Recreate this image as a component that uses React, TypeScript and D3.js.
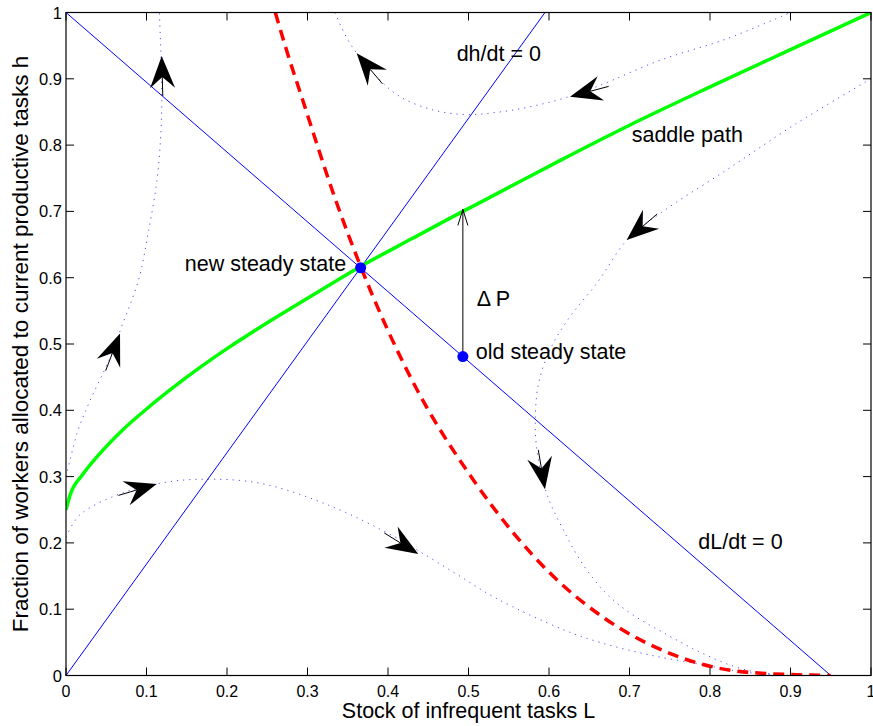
import React from "react";
import * as d3 from "d3";

const W = 873, H = 726;
const ticks = [0, 0.1, 0.2, 0.3, 0.4, 0.5, 0.6, 0.7, 0.8, 0.9, 1];
const tickLabels = ["0", "0.1", "0.2", "0.3", "0.4", "0.5", "0.6", "0.7", "0.8", "0.9", "1"];

// isoclines
const dLdtLine: [number, number][] = [[0, 1], [0.95, 0]];
const dhdtLine: [number, number][] = [[0, 0], [0.595, 1]];

// saddle path (green)
const saddle: [number, number][] = [
  [0, 0.25], [0.005, 0.272], [0.02, 0.302], [0.04, 0.332], [0.07, 0.37], [0.1, 0.402],
  [0.15, 0.45], [0.2, 0.493], [0.25, 0.532], [0.3, 0.569], [0.366, 0.617], [0.43, 0.659],
  [0.496, 0.702], [0.52, 0.717], [0.614, 0.777], [0.7, 0.83], [0.804, 0.89], [0.9, 0.944], [1, 1],
];

// red dashed
const redCurve: [number, number][] = [
  [0.26, 1], [0.274, 0.943], [0.294, 0.868], [0.335, 0.717], [0.366, 0.617], [0.43, 0.445],
  [0.506, 0.295], [0.605, 0.15], [0.667, 0.088], [0.755, 0.031], [0.85, 0.0045], [0.95, 0],
];

// trajectories (dotted)
const traj1: [number, number][] = [
  [0, 0.3], [0.005, 0.325], [0.015, 0.37], [0.03, 0.415], [0.055, 0.48], [0.069, 0.526],
  [0.09, 0.596], [0.102, 0.667], [0.113, 0.747], [0.118, 0.822], [0.119, 0.883], [0.116, 1],
];
const traj2: [number, number][] = [
  [0, 0.209], [0.017, 0.242], [0.067, 0.274], [0.117, 0.29], [0.166, 0.296], [0.241, 0.29],
  [0.328, 0.256], [0.407, 0.21], [0.438, 0.188], [0.485, 0.153], [0.535, 0.116], [0.618, 0.069],
  [0.663, 0.05], [0.725, 0.031], [0.788, 0.017], [0.837, 0.006], [0.878, 0.0015], [0.9, 0],
];
const traj3: [number, number][] = [
  [0.334, 1], [0.353, 0.953], [0.386, 0.903], [0.415, 0.873], [0.456, 0.853], [0.498, 0.846],
  [0.539, 0.85], [0.581, 0.859], [0.622, 0.872], [0.663, 0.89], [0.738, 0.928], [0.82, 0.96],
  [0.9, 1],
];
const traj4: [number, number][] = [
  [1, 0.9], [0.904, 0.83], [0.82, 0.762], [0.738, 0.697], [0.697, 0.657], [0.659, 0.591],
  [0.626, 0.541], [0.601, 0.491], [0.587, 0.44], [0.583, 0.39], [0.585, 0.34], [0.597, 0.275],
  [0.618, 0.219], [0.643, 0.166], [0.671, 0.124], [0.701, 0.094], [0.746, 0.062], [0.788, 0.035],
  [0.829, 0.014], [0.863, 0.004], [0.9, 0],
];
const trajectories = [traj1, traj2, traj3, traj4];

// arrowheads: tip (L,h) and direction (dL,dh)
const arrowTips: [number, number][] = [
  [0.1189, 0.9344], [0.0671, 0.516], [0.1127, 0.2888], [0.4376, 0.1833],
  [0.3611, 0.9385], [0.6261, 0.873], [0.6965, 0.6569], [0.595, 0.2808],
];
const arrowDirs: [number, number][] = [
  [-0.001, 0.045], [0.013, 0.041], [0.036, 0.013], [0.032, -0.024],
  [-0.025, 0.036], [-0.037, -0.012], [-0.029, -0.03], [0.006, -0.043],
];

const newSS: [number, number] = [0.366, 0.615];
const oldSS: [number, number] = [0.493, 0.481];
const shiftTop = 0.703;

const labels = [
  { text: "new steady state", at: [0.348, 0.61], anchor: "end" },
  { text: "old steady state", at: [0.509, 0.477], anchor: "start" },
  { text: "dh/dt = 0", at: [0.4853, 0.927], anchor: "start" },
  { text: "saddle path", at: [0.7027, 0.805], anchor: "start" },
  { text: "dL/dt = 0", at: [0.7855, 0.191], anchor: "start" },
  { text: "\u0394 P", at: [0.5102, 0.557], anchor: "start" },
];

export default function App() {
  const x = d3.scaleLinear().domain([0, 1]).range([66, 871]);
  const y = d3.scaleLinear().domain([0, 1]).range([675.5, 12.5]);
  const lineM = d3.line<[number, number]>().x(d => x(d[0])).y(d => y(d[1])).curve(d3.curveMonotoneX);
  const lineC = d3.line<[number, number]>().x(d => x(d[0])).y(d => y(d[1])).curve(d3.curveCatmullRom);
  const lineS = d3.line<[number, number]>().x(d => x(d[0])).y(d => y(d[1]));
  const font = "'Liberation Sans', Arial, Helvetica, sans-serif";
  const x0 = x(0), x1 = x(1), y0 = y(0), y1 = y(1);

  const arrows = arrowTips.map((t, i) => {
    const tx = x(t[0]), ty = y(t[1]);
    const dx = x(t[0] + arrowDirs[i][0]) - tx;
    const dy = y(t[1] + arrowDirs[i][1]) - ty;
    const len = Math.hypot(dx, dy);
    const ux = dx / len, uy = dy / len;
    const px = -uy, py = ux;
    const L = 32, hw = 12.5, notch = 21;
    const bx = tx - ux * L, by = ty - uy * L;
    const pts = [
      [tx, ty],
      [bx + px * hw, by + py * hw],
      [tx - ux * notch, ty - uy * notch],
      [bx - px * hw, by - py * hw],
    ];
    return {
      d: "M" + pts.map(p => p[0].toFixed(2) + "," + p[1].toFixed(2)).join("L") + "Z",
      tail: [tx - ux * notch, ty - uy * notch, tx - ux * 40, ty - uy * 40],
    };
  });

  return (
    <svg width={W} height={H} style={{ position: "absolute", left: 0, top: 0, background: "#fff" }}>
      <defs>
        <clipPath id="plotclip">
          <rect x={x0} y={y1} width={x1 - x0} height={y0 - y1} />
        </clipPath>
      </defs>
      <rect x={0} y={0} width={W} height={H} fill="#fff" />
      <g clipPath="url(#plotclip)">
        {trajectories.map((t, i) => (
          <path key={i} d={lineC(t) || ""} fill="none" stroke="#3333ff" strokeWidth={1}
            strokeDasharray="1.2,5" strokeOpacity={0.85} />
        ))}
        <path d={lineS(dLdtLine) || ""} fill="none" stroke="#0000ff" strokeWidth={1} />
        <path d={lineS(dhdtLine) || ""} fill="none" stroke="#0000ff" strokeWidth={1} />
        <path d={lineM(redCurve.slice().sort((a, b) => a[0] - b[0])) || ""} fill="none" stroke="#ff0000"
          strokeWidth={3.5} strokeDasharray="11,7" />
        <path d={lineM(saddle) || ""} fill="none" stroke="#00ff00" strokeWidth={3.5} />
      </g>
      {/* shift arrow */}
      <line x1={x(oldSS[0])} y1={y(oldSS[1])} x2={x(oldSS[0])} y2={y(shiftTop)} stroke="#000" strokeWidth={1} />
      <path d={`M${x(oldSS[0]) - 5},${y(shiftTop) + 16} L${x(oldSS[0])},${y(shiftTop)} L${x(oldSS[0]) + 5},${y(shiftTop) + 16}`}
        fill="none" stroke="#000" strokeWidth={1} />
      {arrows.map((a, i) => (
        <g key={i}>
          <line x1={a.tail[0]} y1={a.tail[1]} x2={a.tail[2]} y2={a.tail[3]} stroke="#000" strokeWidth={1} />
          <path d={a.d} fill="#000" />
        </g>
      ))}
      <circle cx={x(newSS[0])} cy={y(newSS[1])} r={5.5} fill="#0000ff" />
      <circle cx={x(oldSS[0])} cy={y(oldSS[1])} r={5.5} fill="#0000ff" />
      {labels.map((l, i) => (
        <text key={i} x={x(l.at[0])} y={y(l.at[1])} textAnchor={l.anchor as any}
          fontFamily={font} fontSize={21.5} fill="#000">{l.text}</text>
      ))}
      {/* axes box */}
      <rect x={x0} y={y1} width={x1 - x0} height={y0 - y1} fill="none" stroke="#000" strokeWidth={1.2} />
      {ticks.map((t, i) => (
        <g key={"t" + i}>
          <line x1={x(t)} x2={x(t)} y1={y0} y2={y0 - 8} stroke="#000" />
          <line x1={x(t)} x2={x(t)} y1={y1} y2={y1 + 8} stroke="#000" />
          <line x1={x0} x2={x0 + 8} y1={y(t)} y2={y(t)} stroke="#000" />
          <line x1={x1} x2={x1 - 8} y1={y(t)} y2={y(t)} stroke="#000" />
          <text x={x(t)} y={y0 + 21} textAnchor="middle" fontFamily={font} fontSize={16}>{tickLabels[i]}</text>
          <text x={x0 - 4} y={y(t) + 6} textAnchor="end" fontFamily={font} fontSize={16.5}>{tickLabels[i]}</text>
        </g>
      ))}
      <text x={(x0 + x1) / 2} y={718} textAnchor="middle" fontFamily={font} fontSize={21.5}>
        Stock of infrequent tasks L
      </text>
      <text transform={`translate(28,${(y0 + y1) / 2}) rotate(-90)`} textAnchor="middle" fontFamily={font} fontSize={22.5}>
        Fraction of workers allocated to current productive tasks h
      </text>
    </svg>
  );
}
